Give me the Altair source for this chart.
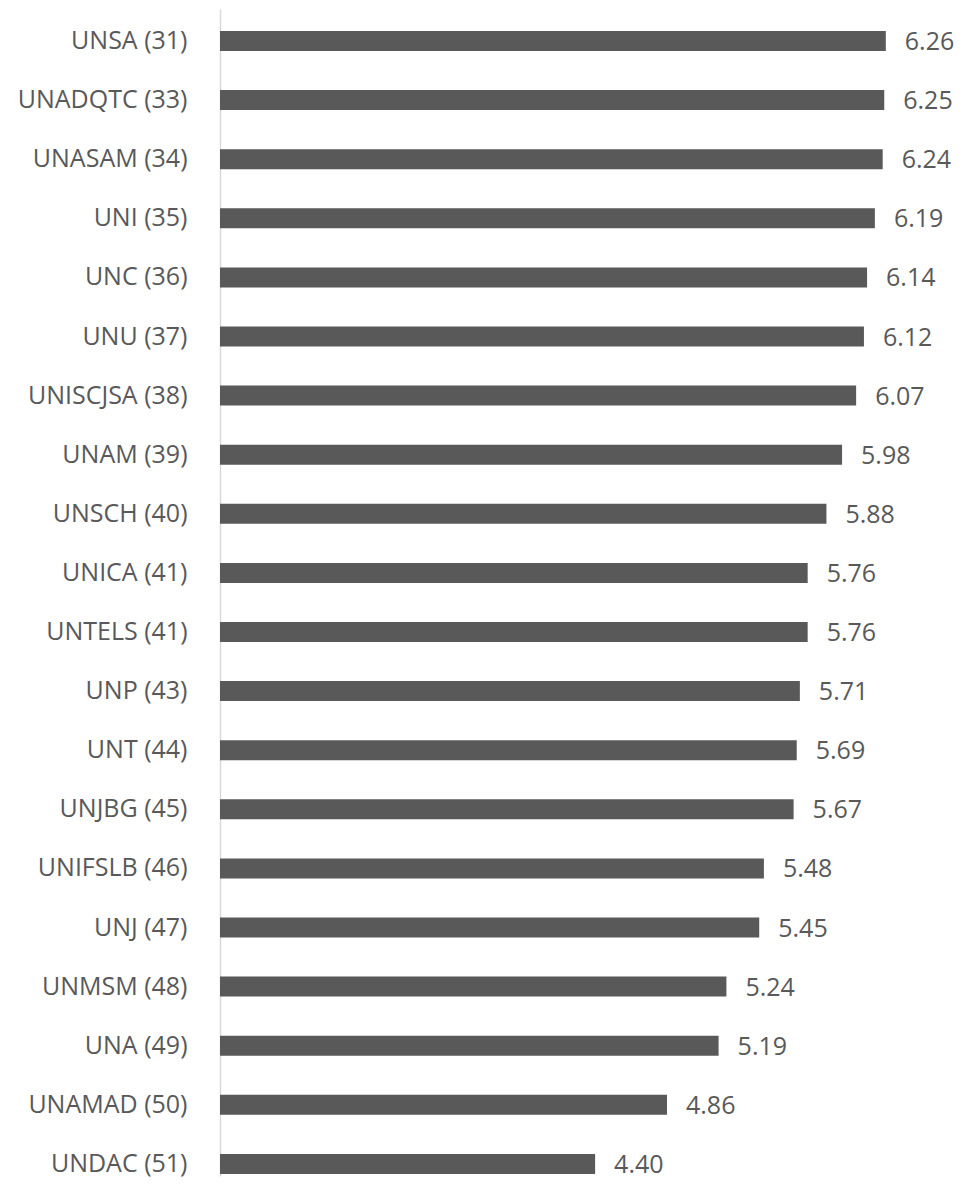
import altair as alt
import pandas as pd

universities = ["UNSA (31)", "UNADQTC (33)", "UNASAM (34)", "UNI (35)", "UNC (36)",
                "UNU (37)", "UNISCJSA (38)", "UNAM (39)", "UNSCH (40)", "UNICA (41)",
                "UNTELS (41)", "UNP (43)", "UNT (44)", "UNJBG (45)", "UNIFSLB (46)",
                "UNJ (47)", "UNMSM (48)", "UNA (49)", "UNAMAD (50)", "UNDAC (51)"]
scores = [6.26, 6.25, 6.24, 6.19, 6.14, 6.12, 6.07, 5.98, 5.88, 5.76,
          5.76, 5.71, 5.69, 5.67, 5.48, 5.45, 5.24, 5.19, 4.86, 4.40]

df = pd.DataFrame({"uni": universities, "score": scores})

FONT = "Open Sans"
GREY = "#595959"

y = alt.Y("uni:N", sort=None, title=None,
          scale=alt.Scale(paddingInner=0.66, paddingOuter=0.203, align=0.915),
          axis=alt.Axis(ticks=False, grid=False, domain=True, domainColor="#d9d9d9",
                        domainWidth=1.5, labelPadding=33, labelFontSize=25,
                        labelColor=GREY, labelFont=FONT, labelLimit=400))
x = alt.X("score:Q", title=None, axis=None,
          scale=alt.Scale(domain=[2, 6.709], zero=False, nice=False))

bars = alt.Chart(df).mark_bar(color=GREY, size=20, clip=True).encode(y=y, x=x)
text = alt.Chart(df).mark_text(align="left", baseline="middle", dx=19, dy=1,
                               fontSize=25, font=FONT, color=GREY).encode(
    y=y, x=x, text=alt.Text("score:Q", format=".2f"))

chart = (bars + text).properties(
    width=736, height=1167,
    autosize=alt.AutoSizeParams(type="none"),
    padding={"left": 212, "top": 1, "right": 0, "bottom": 3},
).configure_view(stroke=None)

chart.save("out.html", embed_options={"renderer": "svg", "actions": False})
